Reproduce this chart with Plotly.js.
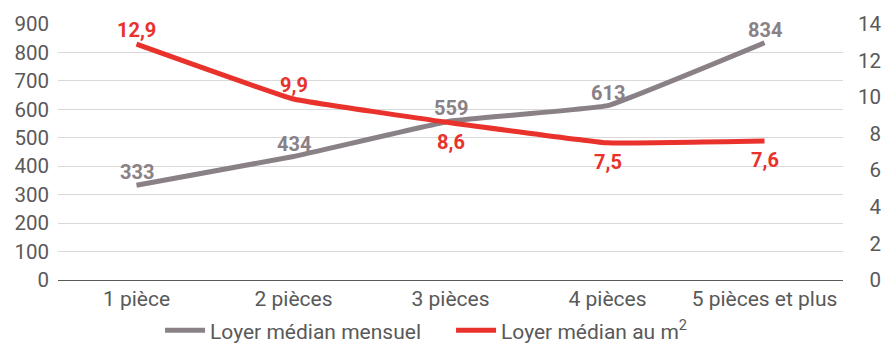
<!DOCTYPE html>
<html>
<head>
<meta charset="utf-8">
<script src="https://cdn.plot.ly/plotly-3.0.1.min.js"></script>
<style>
  html, body { margin: 0; padding: 0; background: #fff; }
  #chart { width: 893px; height: 343px; }
</style>
</head>
<body>
<div id="chart"></div>
<script>
// Loyer médian selon le nombre de pièces
const categories = ["1 pièce", "2 pièces", "3 pièces", "4 pièces", "5 pièces et plus"];
const loyerMensuel = [333, 434, 559, 613, 834];      // € par mois
const loyerAuM2 = [12.9, 9.9, 8.6, 7.5, 7.6];        // € par m²
const m2LabelAbove = [true, true, false, false, false];
const m2Ticks = [0, 2, 4, 6, 8, 10, 12, 14];

const grey = "#8a8187";
const red = "#e8322b";
const labelFont = { family: "Roboto", size: 20, weight: "bold" };

const traces = [
  {
    x: categories,
    y: loyerMensuel,
    name: "Loyer médian mensuel",
    type: "scatter",
    mode: "lines",
    line: { color: grey, width: 5, shape: "spline", smoothing: 0.25 },
    yaxis: "y"
  },
  {
    x: categories,
    y: loyerAuM2,
    name: "Loyer médian au m<sup>2</sup>",
    type: "scatter",
    mode: "lines",
    line: { color: red, width: 5, shape: "spline", smoothing: 0.25 },
    yaxis: "y2"
  }
];

// Value labels, placed at each point of their series
const annotations = [];
categories.forEach((c, i) => {
  annotations.push({
    x: c, y: loyerMensuel[i], xref: "x", yref: "y",
    text: String(loyerMensuel[i]),
    showarrow: false, yanchor: "middle", yshift: 13,
    font: Object.assign({ color: grey }, labelFont)
  });
  annotations.push({
    x: c, y: loyerAuM2[i], xref: "x", yref: "y2",
    text: loyerAuM2[i].toFixed(1).replace(".", ","),
    showarrow: false, yanchor: "middle", yshift: m2LabelAbove[i] ? 14 : -19,
    font: Object.assign({ color: red }, labelFont)
  });
});

const layout = {
  width: 893,
  height: 343,
  margin: { l: 58, r: 50, t: 24, b: 63 },
  separators: ", ",
  paper_bgcolor: "#ffffff",
  plot_bgcolor: "#ffffff",
  font: { family: "Roboto", size: 21, color: "#595959" },
  showlegend: true,
  legend: {
    orientation: "h",
    x: 0.13,
    xanchor: "left",
    yref: "container",
    y: 0.036,
    yanchor: "middle",
    bgcolor: "rgba(0,0,0,0)",
    font: { size: 21, color: "#595959" },
    itemwidth: 40,
    entrywidth: 236
  },
  annotations: annotations,
  xaxis: {
    type: "category",
    range: [-0.5, 4.5],
    showline: true,
    linecolor: "#595959",
    linewidth: 1,
    showgrid: false,
    ticks: "",
    tickfont: { size: 21, color: "#595959" }
  },
  yaxis: {
    range: [0, 900],
    dtick: 100,
    showgrid: true,
    gridcolor: "#d9d9d9",
    gridwidth: 1,
    zeroline: false,
    showline: false,
    ticks: "",
    ticklabelstandoff: 8,
    tickfont: { size: 20.5, color: "#595959" }
  },
  yaxis2: {
    range: [0, 14],
    tickmode: "array",
    tickvals: m2Ticks,
    // figure-space padding keeps the right-hand labels right-aligned
    ticktext: m2Ticks.map(v => (v < 10 ? "\u2007" : "") + v),
    overlaying: "y",
    side: "right",
    showgrid: false,
    zeroline: false,
    showline: false,
    ticks: "",
    ticklabelstandoff: 14,
    tickfont: { size: 20.5, color: "#595959" }
  }
};

Plotly.newPlot("chart", traces, layout, { displayModeBar: false, staticPlot: true });
</script>
</body>
</html>
